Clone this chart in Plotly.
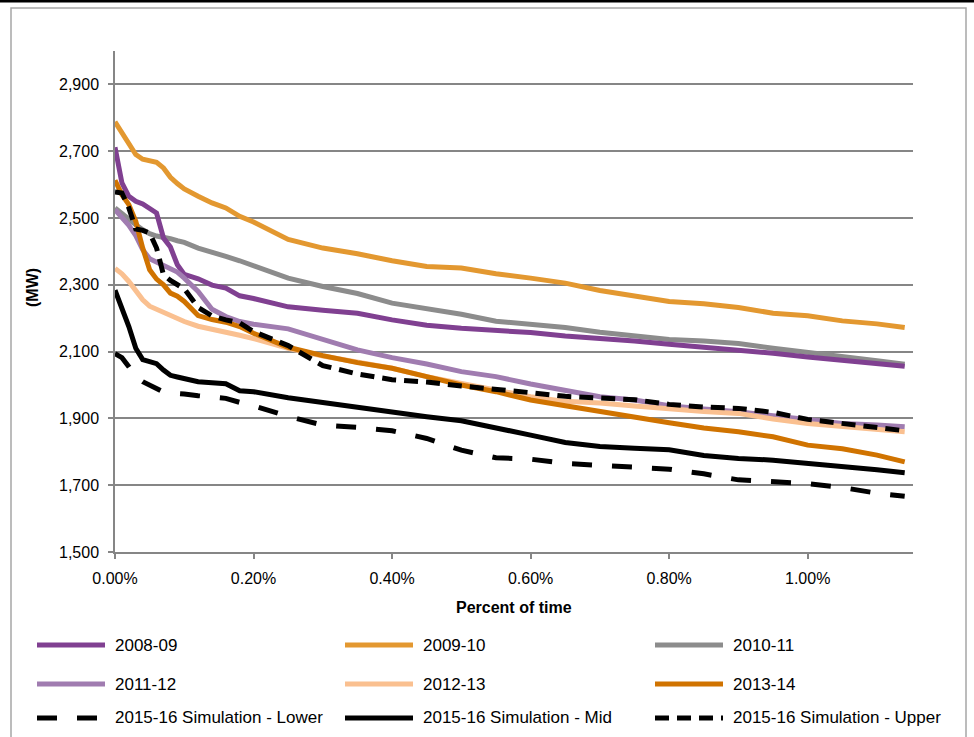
import plotly.graph_objects as go

# Share of the year (percent) at which each load value is sampled
pct_of_time = [0, 0.01, 0.02, 0.03, 0.04, 0.05, 0.06, 0.07, 0.08, 0.09, 0.10,
               0.12, 0.14, 0.16, 0.18, 0.20, 0.25, 0.30, 0.35, 0.40, 0.45,
               0.50, 0.55, 0.60, 0.65, 0.70, 0.75, 0.80, 0.85, 0.90, 0.95,
               1.00, 1.05, 1.10, 1.14]

# Load duration values (MW)
fy_2008_09 = [2712, 2605, 2565, 2550, 2542, 2530, 2515, 2440, 2413, 2360, 2331,
              2318, 2299, 2290, 2267, 2259, 2234, 2224, 2215, 2195, 2179,
              2170, 2165, 2157, 2147, 2140, 2132, 2122, 2114, 2105, 2095,
              2084, 2073, 2064, 2056]
fy_2009_10 = [2788, 2753, 2718, 2690, 2676, 2670, 2667, 2650, 2622, 2603, 2587,
              2565, 2545, 2530, 2505, 2488, 2436, 2410, 2393, 2372, 2355,
              2350, 2333, 2320, 2305, 2283, 2265, 2250, 2243, 2232, 2215,
              2207, 2192, 2183, 2172]
fy_2010_11 = [2530, 2512, 2497, 2480, 2465, 2453, 2446, 2443, 2438, 2432, 2427,
              2410, 2396, 2385, 2372, 2358, 2320, 2295, 2274, 2245, 2228,
              2212, 2191, 2181, 2172, 2158, 2146, 2136, 2132, 2124, 2110,
              2098, 2088, 2073, 2062]
fy_2011_12 = [2525, 2503, 2478, 2447, 2405, 2378, 2367, 2358, 2349, 2338, 2320,
              2280, 2227, 2205, 2190, 2182, 2168, 2135, 2105, 2082, 2063,
              2040, 2025, 2003, 1983, 1965, 1955, 1938, 1928, 1920, 1908,
              1895, 1885, 1880, 1875]
fy_2012_13 = [2349, 2333, 2310, 2280, 2255, 2236, 2226, 2216, 2207, 2198, 2190,
              2176, 2168, 2158, 2149, 2139, 2110, 2087, 2070, 2050, 2025,
              2004, 1985, 1965, 1951, 1946, 1937, 1928, 1921, 1915, 1898,
              1885, 1875, 1866, 1860]
fy_2013_14 = [2613, 2570, 2540, 2490, 2410, 2345, 2317, 2300, 2275, 2266, 2250,
              2208, 2196, 2188, 2175, 2155, 2113, 2088, 2067, 2050, 2025,
              2000, 1980, 1955, 1938, 1920, 1902, 1887, 1871, 1860, 1845,
              1820, 1809, 1790, 1770]
sim_lower = [2094, 2082, 2055, 2025, 2010, 2000, 1992, 1979, 1976, 1975, 1973,
             1968, 1964, 1960, 1948, 1938, 1906, 1880, 1873, 1863, 1840,
             1805, 1782, 1778, 1765, 1758, 1754, 1748, 1734, 1716, 1710,
             1705, 1693, 1676, 1667]
sim_mid = [2284, 2232, 2175, 2110, 2076, 2070, 2064, 2045, 2029, 2024, 2019,
           2010, 2007, 2004, 1983, 1980, 1962, 1947, 1932, 1918, 1905,
           1893, 1873, 1850, 1828, 1816, 1811, 1806, 1789, 1780, 1775,
           1766, 1757, 1746, 1737]
sim_upper = [2578, 2575, 2530, 2467, 2463, 2455, 2410, 2330, 2313, 2302, 2288,
             2232, 2207, 2195, 2186, 2160, 2118, 2058, 2033, 2016, 2009,
             1997, 1988, 1977, 1966, 1960, 1956, 1942, 1934, 1930, 1918,
             1897, 1884, 1870, 1863]

series_names = ["2008-09", "2009-10", "2010-11", "2011-12", "2012-13", "2013-14",
                "2015-16 Simulation - Lower", "2015-16 Simulation - Mid",
                "2015-16 Simulation - Upper"]
series_values = [fy_2008_09, fy_2009_10, fy_2010_11, fy_2011_12, fy_2012_13,
                 fy_2013_14, sim_lower, sim_mid, sim_upper]

y_ticks = [1500, 1700, 1900, 2100, 2300, 2500, 2700, 2900]
x_ticks = [0, 0.2, 0.4, 0.6, 0.8, 1.0]

colors = ["#804091", "#E39830", "#8C8C8C", "#A07CB0", "#FAC090", "#D07300",
          "#000000", "#000000", "#000000"]
dashes = ["solid"] * 6 + ["20px,20px", "solid", "14px,8px"]
# drawing order: historical years first, simulations on top
draw_order = [1, 2, 0, 3, 4, 5, 6, 7, 8]

FONT = "Liberation Sans, Arial, sans-serif"
W, H = 974, 737
L, R, T, B = 115, 61, 51, 185
PW, PH = W - L - R, H - T - B


def px_x(p):
    return (p - L) / PW


def px_y(p):
    return (H - B - p) / PH


x_frac = [v / 100 for v in pct_of_time]

fig = go.Figure()
for i in draw_order:
    fig.add_trace(go.Scatter(
        x=x_frac, y=series_values[i], name=series_names[i], mode="lines",
        line=dict(color=colors[i], width=5, dash=dashes[i]),
        showlegend=False,
    ))

shapes = []
annotations = []

# chart frame and top rule
shapes.append(dict(type="rect", xref="paper", yref="paper",
                   x0=px_x(11), x1=px_x(966), y0=px_y(760), y1=px_y(8),
                   line=dict(color="#A6A6A6", width=1.5), layer="below"))
shapes.append(dict(type="line", xref="paper", yref="paper",
                   x0=px_x(0), x1=px_x(974), y0=px_y(1), y1=px_y(1),
                   line=dict(color="#000000", width=3)))

# legend: three columns, three rows
col_x = [37, 345, 655]
row_y = [645, 684, 718]
for i, name in enumerate(series_names):
    r, c = divmod(i, 3)
    x0 = col_x[c]
    y = row_y[r]
    shapes.append(dict(type="line", xref="paper", yref="paper",
                       x0=px_x(x0), x1=px_x(x0 + 68), y0=px_y(y), y1=px_y(y),
                       line=dict(color=colors[i], width=5, dash=dashes[i])))
    annotations.append(dict(xref="paper", yref="paper", x=px_x(x0 + 76),
                            y=px_y(y), text=name, showarrow=False,
                            xanchor="left", yanchor="middle",
                            font=dict(family=FONT, size=17, color="#000000")))

# axis titles
annotations.append(dict(xref="paper", yref="paper", x=px_x(514), y=px_y(607),
                        text="<b>Percent of time</b>", showarrow=False,
                        xanchor="center", yanchor="middle",
                        font=dict(family=FONT, size=16, color="#000000")))
annotations.append(dict(xref="paper", yref="paper", x=px_x(32), y=px_y(288),
                        text="<b>(MW)</b>", showarrow=False, textangle=-90,
                        xanchor="center", yanchor="middle",
                        font=dict(family=FONT, size=16, color="#000000")))

fig.update_layout(
    width=W, height=H,
    margin=dict(l=L, r=R, t=T, b=B),
    paper_bgcolor="white", plot_bgcolor="white",
    font=dict(family=FONT, size=16, color="#000000"),
    shapes=shapes, annotations=annotations,
    showlegend=False,
)
fig.update_xaxes(
    range=[0, 0.01152], tickvals=[v / 100 for v in x_ticks], tickformat=".2%",
    showgrid=False, showline=True, linecolor="#868686", linewidth=1.5,
    ticks="outside", ticklen=5, tickcolor="#868686", tickwidth=1.5,
    zeroline=False, ticklabelstandoff=6,
)
fig.update_yaxes(
    range=[1500, 3000], tickvals=y_ticks, tickformat=",d",
    showgrid=True, gridcolor="#868686", gridwidth=1.5,
    showline=True, linecolor="#868686", linewidth=1.5,
    ticks="outside", ticklen=5, tickcolor="#868686", tickwidth=1.5,
    zeroline=False, ticklabelstandoff=6,
)

fig.write_html("out.html")
